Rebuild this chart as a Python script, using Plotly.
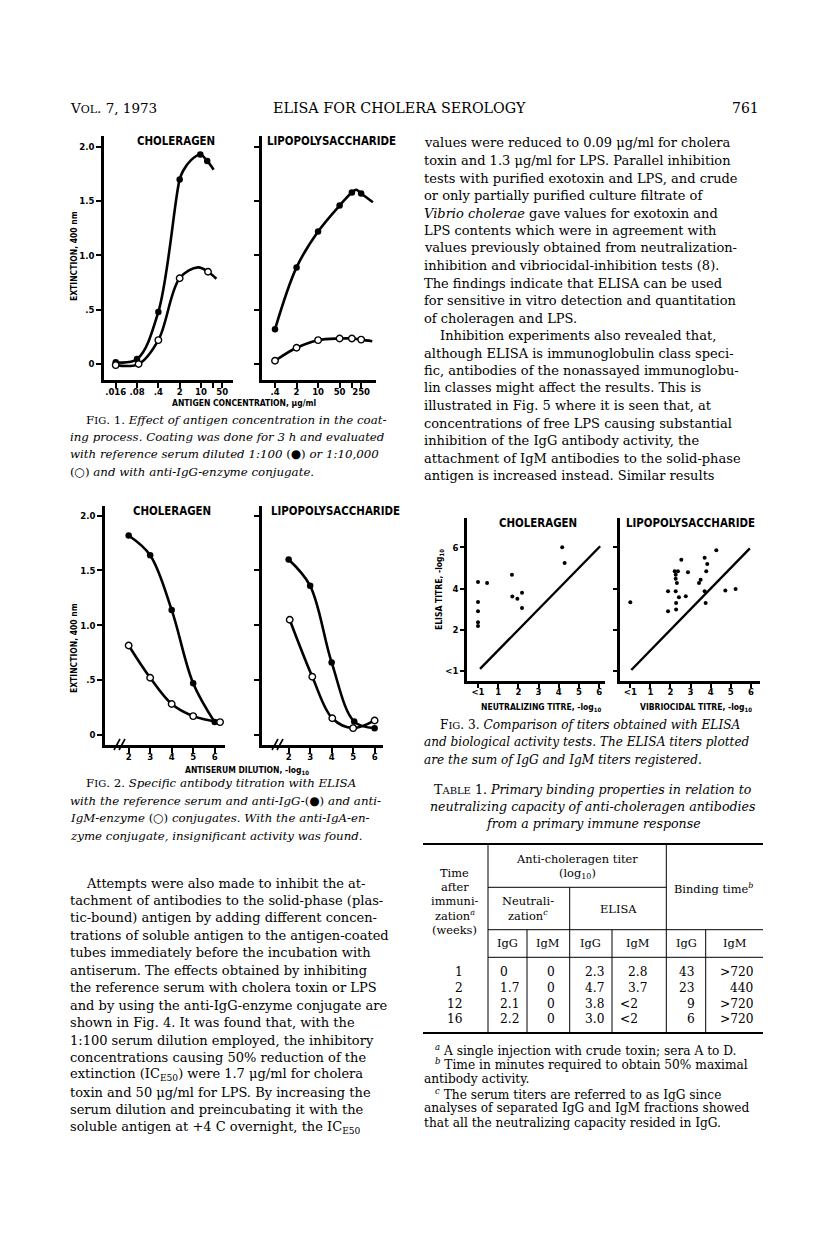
import plotly.graph_objects as go

W, H = 816, 1233
DY = 0  # global vertical shift of the page content, px
SERIF = "DejaVu Serif"
SANS = "Liberation Sans Narrow, DejaVu Sans Condensed, Liberation Sans, Arial"

# ---------------- Fig. 1 : extinction vs antigen concentration ----------------
f1_chol_igg_x = [0.016, 0.08, 0.4, 2, 9.5, 16]
f1_chol_igg_y = [0.016, 0.046, 0.48, 1.70, 1.93, 1.87]
f1_chol_igm_x = [0.016, 0.09, 0.4, 2, 17]
f1_chol_igm_y = [-0.01, 0.0, 0.22, 0.79, 0.85]
# hand drawn curves (knots)
f1_chol_igg_cx = [0.016, 0.08, 0.4, 2, 2.6, 4.8, 9.5, 16, 26]
f1_chol_igg_cy = [0.016, 0.046, 0.48, 1.70, 1.78, 1.88, 1.93, 1.87, 1.79]
f1_chol_igm_cx = [0.016, 0.09, 0.4, 2, 8, 17, 32]
f1_chol_igm_cy = [-0.01, 0.0, 0.22, 0.79, 0.89, 0.85, 0.785]

f1_lps_x = [0.4, 2, 10, 50, 125, 250]
f1_lps_igg_y = [0.32, 0.89, 1.22, 1.46, 1.58, 1.57]
f1_lps_igm_y = [0.03, 0.15, 0.22, 0.235, 0.235, 0.225]
f1_lps_igg_cx = [0.4, 2, 10, 50, 125, 175, 250, 600]
f1_lps_igg_cy = [0.32, 0.89, 1.22, 1.46, 1.58, 1.605, 1.57, 1.49]
f1_lps_igm_cx = [0.4, 2, 10, 50, 125, 250, 575]
f1_lps_igm_cy = [0.03, 0.15, 0.22, 0.235, 0.235, 0.225, 0.21]

f1_chol_ticks = [0.016, 0.08, 0.4, 2, 10, 25, 50]
f1_chol_ticktext = [".016", ".08", ".4", "2", "10", "", "50"]
f1_lps_ticks = [0.4, 2, 10, 50, 125, 250]
f1_lps_ticktext = [".4", "2", "10", "50", "", "250"]
ext_ticks = [0, 0.5, 1, 1.5, 2]
ext_ticktext = ["0", ".5", "1.0", "1.5", "2.0"]

# ---------------- Fig. 2 : antiserum dilution ----------------
f2_chol_igg_x = [2, 3, 4, 5, 6]
f2_chol_igg_y = [1.82, 1.64, 1.14, 0.47, 0.115]
f2_chol_igm_x = [2, 3, 4, 5, 6.25]
f2_chol_igm_y = [0.815, 0.52, 0.28, 0.17, 0.115]
f2_lps_igg_x = [2, 3, 4, 5.05, 6]
f2_lps_igg_y = [1.60, 1.36, 0.66, 0.12, 0.06]
f2_lps_igm_x = [2.05, 3.1, 4.03, 5, 6]
f2_lps_igm_y = [1.05, 0.53, 0.15, 0.06, 0.13]
dil_ticks = [2, 3, 4, 5, 6]

# ---------------- Fig. 3 : ELISA vs biological titres ----------------
f3_neut_x = [0, 0.45, 0, 0, 0, 0, 1.68, 1.70, 1.95, 2.18, 2.18, 4.17, 4.29]
f3_neut_y = [4.32, 4.27, 3.35, 2.90, 2.37, 2.18, 4.67, 3.61, 3.50, 3.79, 3.05, 6.0, 5.24]
f3_vib_x = [0, 1.88, 1.88, 2.26, 2.28, 2.28, 2.21, 2.37, 2.26, 2.26, 2.32, 2.42, 2.54,
            2.76, 2.87, 3.42, 3.50, 3.70, 3.70, 3.75, 3.78, 3.83, 4.28, 4.73, 5.24]
f3_vib_y = [3.33, 3.87, 2.90, 3.87, 3.30, 2.98, 4.84, 4.84, 4.67, 4.48, 4.27, 3.58, 5.40,
            3.63, 4.79, 4.27, 4.42, 5.49, 3.87, 3.30, 4.84, 5.19, 5.86, 3.90, 3.98]
f3_diag_neut = [0.1, 6.05]
f3_diag_vib = [0.05, 5.95]
titre_ticks = [0, 1, 2, 3, 4, 5, 6]
titre_ticktext = ["<1", "1", "2", "3", "4", "5", "6"]
elisa_ticks = [0, 2, 4, 6]
elisa_ticktext = ["<1", "2", "4", "6"]

# ---------------- Table 1 ----------------
t_weeks = ["1", "2", "12", "16"]
t_neut_igg = ["0", "1.7", "2.1", "2.2"]
t_neut_igm = ["0", "0", "0", "0"]
t_elisa_igg = ["2.3", "4.7", "3.8", "3.0"]
t_elisa_igm = ["2.8", "3.7", "<2", "<2"]
t_bind_igg = ["43", "23", "9", "6"]
t_bind_igm = [">720", "440", ">720", ">720"]


def sc(word, size=10):
    return word[0] + "<span style='font-size:%dpx'>" % size + word[1:] + "</span>"


left_caption1 = [
    sc("FIG") + ". 1. <i>Effect of antigen concentration in the coat-</i>",
    "<i>ing process. Coating was done for 3 h and evaluated</i>",
    "<i>with reference serum diluted 1:100 </i>(●)<i> or 1:10,000</i>",
    "(○)<i> and with anti-IgG-enzyme conjugate.</i>",
]
left_caption2 = [
    sc("FIG") + ". 2. <i>Specific antibody titration with ELISA</i>",
    "<i>with the reference serum and anti-IgG-</i>(●)<i> and anti-</i>",
    "<i>IgM-enzyme </i>(○)<i> conjugates. With the anti-IgA-en-</i>",
    "<i>zyme conjugate, insignificant activity was found.</i>",
]
left_body = [
    "Attempts were also made to inhibit the at-",
    "tachment of antibodies to the solid-phase (plas-",
    "tic-bound) antigen by adding different concen-",
    "trations of soluble antigen to the antigen-coated",
    "tubes immediately before the incubation with",
    "antiserum. The effects obtained by inhibiting",
    "the reference serum with cholera toxin or LPS",
    "and by using the anti-IgG-enzyme conjugate are",
    "shown in Fig. 4. It was found that, with the",
    "1:100 serum dilution employed, the inhibitory",
    "concentrations causing 50% reduction of the",
    "extinction (IC<sub>E50</sub>) were 1.7 μg/ml for cholera",
    "toxin and 50 μg/ml for LPS. By increasing the",
    "serum dilution and preincubating it with the",
    "soluble antigen at +4 C overnight, the IC<sub>E50</sub>",
]
right_body = [
    "values were reduced to 0.09 μg/ml for cholera",
    "toxin and 1.3 μg/ml for LPS. Parallel inhibition",
    "tests with purified exotoxin and LPS, and crude",
    "or only partially purified culture filtrate of",
    "<i>Vibrio cholerae</i> gave values for exotoxin and",
    "LPS contents which were in agreement with",
    "values previously obtained from neutralization-",
    "inhibition and vibriocidal-inhibition tests (8).",
    "The findings indicate that ELISA can be used",
    "for sensitive in vitro detection and quantitation",
    "of choleragen and LPS.",
    "Inhibition experiments also revealed that,",
    "although ELISA is immunoglobulin class speci-",
    "fic, antibodies of the nonassayed immunoglobu-",
    "lin classes might affect the results. This is",
    "illustrated in Fig. 5 where it is seen that, at",
    "concentrations of free LPS causing substantial",
    "inhibition of the IgG antibody activity, the",
    "attachment of IgM antibodies to the solid-phase",
    "antigen is increased instead. Similar results",
]
right_caption3 = [
    sc("FIG") + ". 3. <i>Comparison of titers obtained with ELISA</i>",
    "<i>and biological activity tests. The ELISA titers plotted</i>",
    "<i>are the sum of IgG and IgM titers registered.</i>",
]
table_title = [
    sc("TABLE") + " 1. <i>Primary binding properties in relation to</i>",
    "<i>neutralizing capacity of anti-choleragen antibodies</i>",
    "<i>from a primary immune response</i>",
]
footnotes = [
    "<sup><i>a</i></sup> A single injection with crude toxin; sera A to D.",
    "<sup><i>b</i></sup> Time in minutes required to obtain 50% maximal",
    "antibody activity.",
    "<sup><i>c</i></sup> The serum titers are referred to as IgG since",
    "analyses of separated IgG and IgM fractions showed",
    "that all the neutralizing capacity resided in IgG.",
]

ann = []
shapes = []


def txt(x, y, s, size=13.0, family=SERIF, anchor="left", angle=0):
    ann.append(dict(x=x / W, y=1 - (y + DY) / H, xref="paper", yref="paper", text=s,
                    showarrow=False, xanchor=anchor, yanchor="middle", textangle=angle,
                    font=dict(size=size, family=family, color="black")))


def line(x0, y0, x1, y1, w=1):
    shapes.append(dict(type="line", xref="paper", yref="paper", x0=x0 / W, x1=x1 / W,
                       y0=1 - (y0 + DY) / H, y1=1 - (y1 + DY) / H,
                       line=dict(color="black", width=w)))


def xd(a, b):
    return [a / W, b / W]


def yd(top, bottom):
    return [1 - (bottom + DY) / H, 1 - (top + DY) / H]


fig = go.Figure()


def curve(x, y, xa, ya, w=2.6):
    fig.add_trace(go.Scatter(x=x, y=y, xaxis=xa, yaxis=ya, mode="lines",
                             line=dict(color="black", width=w, shape="spline", smoothing=1.0),
                             hoverinfo="skip"))


def dots(x, y, xa, ya, filled=True, size=6.5):
    fig.add_trace(go.Scatter(x=x, y=y, xaxis=xa, yaxis=ya, mode="markers",
                             marker=dict(size=size, color="black" if filled else "white",
                                         line=dict(color="black", width=1.4 if not filled else 0)),
                             hoverinfo="skip"))


# Fig. 1
curve(f1_chol_igg_cx, f1_chol_igg_cy, "x", "y")
curve(f1_chol_igm_cx, f1_chol_igm_cy, "x", "y")
dots(f1_chol_igg_x, f1_chol_igg_y, "x", "y")
dots(f1_chol_igm_x, f1_chol_igm_y, "x", "y", filled=False)
curve(f1_lps_igg_cx, f1_lps_igg_cy, "x2", "y2")
curve(f1_lps_igm_cx, f1_lps_igm_cy, "x2", "y2")
dots(f1_lps_x, f1_lps_igg_y, "x2", "y2")
dots(f1_lps_x, f1_lps_igm_y, "x2", "y2", filled=False)

# Fig. 2
curve(f2_chol_igg_x, f2_chol_igg_y, "x3", "y3")
curve(f2_chol_igm_x, f2_chol_igm_y, "x3", "y3")
dots(f2_chol_igg_x, f2_chol_igg_y, "x3", "y3")
dots(f2_chol_igm_x, f2_chol_igm_y, "x3", "y3", filled=False)
curve(f2_lps_igg_x, f2_lps_igg_y, "x4", "y4")
curve(f2_lps_igm_x, f2_lps_igm_y, "x4", "y4")
dots(f2_lps_igg_x, f2_lps_igg_y, "x4", "y4")
dots(f2_lps_igm_x, f2_lps_igm_y, "x4", "y4", filled=False)

# Fig. 3
fig.add_trace(go.Scatter(x=f3_diag_neut, y=f3_diag_neut, xaxis="x5", yaxis="y5", mode="lines",
                         line=dict(color="black", width=2.4), hoverinfo="skip"))
dots(f3_neut_x, f3_neut_y, "x5", "y5", size=4)
fig.add_trace(go.Scatter(x=f3_diag_vib, y=f3_diag_vib, xaxis="x6", yaxis="y6", mode="lines",
                         line=dict(color="black", width=2.4), hoverinfo="skip"))
dots(f3_vib_x, f3_vib_y, "x6", "y6", size=4)

tickfont = dict(family=SANS, size=9.5, color="black", weight="bold")


def axis(**kw):
    d = dict(showline=True, linecolor="black", linewidth=2.5, ticks="outside", ticklen=5,
             tickwidth=2, tickcolor="black", showgrid=False, zeroline=False,
             tickfont=tickfont, fixedrange=True)
    d.update(kw)
    return d


fig.update_layout(
    width=W, height=H, margin=dict(l=0, r=0, t=0, b=0), showlegend=False,
    paper_bgcolor="white", plot_bgcolor="white",
    # Fig. 1
    xaxis=axis(domain=xd(96, 225), anchor="y", type="log", range=[-2.18, 2.05],
               tickvals=f1_chol_ticks, ticktext=f1_chol_ticktext, ticklabelstandoff=-4),
    yaxis=axis(domain=yd(128, 372), anchor="x", range=[-0.147, 2.10],
               tickvals=ext_ticks, ticktext=ext_ticktext),
    xaxis2=axis(domain=xd(254, 368), anchor="y2", type="log", range=[-0.82, 2.88],
                tickvals=f1_lps_ticks, ticktext=f1_lps_ticktext, ticklabelstandoff=-4),
    yaxis2=axis(domain=yd(128, 372), anchor="x2", range=[-0.147, 2.10],
                tickvals=ext_ticks, showticklabels=False),
    # Fig. 2
    xaxis3=axis(domain=xd(97, 217), anchor="y3", range=[0.9, 6.48], tickvals=dil_ticks,
                ticklabelstandoff=-4),
    yaxis3=axis(domain=yd(498, 737), anchor="x3", range=[-0.094, 2.089],
                tickvals=ext_ticks, ticktext=ext_ticktext),
    xaxis4=axis(domain=xd(254, 375), anchor="y4", range=[0.76, 6.39], tickvals=dil_ticks,
                ticklabelstandoff=-4),
    yaxis4=axis(domain=yd(498, 737), anchor="x4", range=[-0.094, 2.089],
                tickvals=ext_ticks, showticklabels=False),
    # Fig. 3
    xaxis5=axis(domain=xd(459, 597), anchor="y5", range=[-0.545, 6.29],
                tickvals=titre_ticks, ticktext=titre_ticktext, ticklen=4, ticklabelstandoff=-4),
    yaxis5=axis(domain=yd(510, 673), anchor="x5", range=[-0.484, 7.42],
                tickvals=elisa_ticks, ticktext=elisa_ticktext, ticklen=4),
    xaxis6=axis(domain=xd(611.7, 751.7), anchor="y6", range=[-0.527, 6.44],
                tickvals=titre_ticks, ticktext=titre_ticktext, ticklen=4, ticklabelstandoff=-4),
    yaxis6=axis(domain=yd(510, 673), anchor="x6", range=[-0.484, 7.42],
                tickvals=elisa_ticks, showticklabels=False, ticklen=4),
)

# axis breaks in Fig. 2
for bx in (110, 268):
    for dx in (0, 5):
        line(bx + dx - 4, 742, bx + dx + 2, 731, 1.6)

# running head
txt(60, 100, "V<span style='font-size:11px'>OL</span>. 7, 1973", 13.5)
txt(391, 100, "ELISA FOR CHOLERA SEROLOGY", 14.3, anchor="center")
txt(753, 100, "761", 14, anchor="right")

# figure labels
lab = 11.4
txt(168, 133, "<b>CHOLERAGEN</b>", lab, SANS, "center")
txt(257, 133, "<b>LIPOPOLYSACCHARIDE</b>", lab, SANS)
txt(164, 503, "<b>CHOLERAGEN</b>", lab, SANS, "center")
txt(261, 503, "<b>LIPOPOLYSACCHARIDE</b>", lab, SANS)
txt(530, 515, "<b>CHOLERAGEN</b>", lab, SANS, "center")
txt(682, 515, "<b>LIPOPOLYSACCHARIDE</b>", lab, SANS, "center")

txt(66, 248, "<b>EXTINCTION, 400 nm</b>", 8.5, SANS, "center", -90)
txt(236, 395, "<b>ANTIGEN CONCENTRATION, μg/ml</b>", 8.5, SANS, "center")
txt(66, 640, "<b>EXTINCTION, 400 nm</b>", 8.5, SANS, "center", -90)
txt(239, 762, "<b>ANTISERUM DILUTION, -log<sub>10</sub></b>", 8.5, SANS, "center")
txt(431, 582, "<b>ELISA TITRE, -log<sub>10</sub></b>", 8.5, SANS, "center", -90)
txt(533, 699, "<b>NEUTRALIZING TITRE, -log<sub>10</sub></b>", 8.5, SANS, "center")
txt(688, 699, "<b>VIBRIOCIDAL TITRE, -log<sub>10</sub></b>", 8.5, SANS, "center")

# left column text
for i, s in enumerate(left_caption1):
    txt(76 if i == 0 else 60, 411.7 + 17.3 * i, s, 11.8)
for i, s in enumerate(left_caption2):
    txt(76 if i == 0 else 60, 775 + 17.5 * i, s, 11.8)
for i, s in enumerate(left_body):
    txt(76 if i == 0 else 60, 875 + 17.45 * i, s)

# right column text
for i, s in enumerate(right_body):
    txt(430 if i == 11 else 414, 135 + 17.5 * i, s)
for i, s in enumerate(right_caption3):
    txt(430 if i == 0 else 414, 716.7 + 17.4 * i, s, 12.1)
for i, s in enumerate(table_title):
    txt(585, 781 + 17.2 * i, s, 12.6, anchor="center")

# table rules
line(415, 836, 755, 836, 2)
line(415, 1025, 755, 1025, 2)
line(480, 879.3, 658.3, 879.3)
line(480, 921.7, 755, 921.7)
line(480, 949.3, 755, 949.3)
line(480, 836, 480, 1025)
line(658.3, 836, 658.3, 1025)
line(561.7, 879.3, 561.7, 1025)
for vx in (519, 604, 697.7):
    line(vx, 921.7, vx, 1025)

tf = 11.4
for i, s in enumerate(["Time", "after", "immuni-", "zation<sup><i>a</i></sup>", "(weeks)"]):
    txt(446.7, 865 + 14.2 * i, s, tf, anchor="center")
txt(569.3, 851, "Anti-choleragen titer", tf, anchor="center")
txt(569.3, 865, "(log<sub>10</sub>)", tf, anchor="center")
txt(705, 880, "Binding time<sup><i>b</i></sup>", tf, anchor="center")
txt(520, 893.3, "Neutrali-", tf, anchor="center")
txt(520, 907.3, "zation<sup><i>c</i></sup>", tf, anchor="center")
txt(610, 900.7, "ELISA", tf, anchor="center")
for cx, s in zip([499.3, 540, 582.7, 630, 678.3, 726.7], ["IgG", "IgM", "IgG", "IgM", "IgG", "IgM"]):
    txt(cx, 935, s, tf, anchor="center")

for r in range(4):
    ry = 964.3 + 15.7 * r
    txt(457, ry, t_weeks[r], 12.2, anchor="right")
    txt(490, ry, t_neut_igg[r], 12.2)
    txt(543.3, ry, t_neut_igm[r], 12.2, anchor="center")
    txt(575, ry, t_elisa_igg[r], 12.2)
    txt(641 if t_elisa_igm[r][0] != "<" else 632, ry, t_elisa_igm[r], 12.2, anchor="right")
    txt(689, ry, t_bind_igg[r], 12.2, anchor="right")
    txt(747, ry, t_bind_igm[r], 12.2, anchor="right")

for i, s in enumerate(footnotes):
    txt(425 if i in (0, 1, 3) else 414, 1041.7 + 14.6 * i, s, 12.2)

fig.update_layout(annotations=ann, shapes=shapes)
fig.write_html("out.html")
